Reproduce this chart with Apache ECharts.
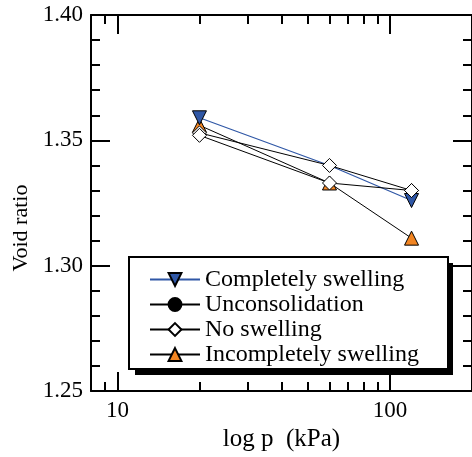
<!DOCTYPE html>
<html>
<head>
<meta charset="utf-8">
<script src="https://cdn.jsdelivr.net/npm/echarts@6/dist/echarts.min.js"></script>
<style>
html,body{margin:0;padding:0;background:#fff;}
#chart{width:472px;height:457px;}
</style>
</head>
<body>
<div id="chart"></div>
<script>
// ---- data ----
var pressures = [20, 60, 120];                 // kPa
var completelySwelling = [1.359, 1.340, 1.326];
var unconsolidation = [1.353, 1.340, 1.330];
var noSwelling = [1.352, 1.333, 1.330];
var incompletelySwelling = [1.356, 1.333, 1.311];
var seriesNames = ['Completely swelling', 'Unconsolidation', 'No swelling', 'Incompletely swelling'];
var xMin = 8, xMax = 200;
var xMajorTicks = [10, 100];
var xMinorTicks = [9, 20, 30, 40, 50, 60, 70, 80, 90];
var yMin = 1.25, yMax = 1.40, yInterval = 0.05;

// ---- styling ----
var FONT = "'Liberation Serif', 'Times New Roman', serif";
var BLUE = '#2f57a6';
var ORANGE = '#f28522';
var gridLeft = 91, gridTop = 15, gridWidth = 382, gridHeight = 379;
var legendBox = { left: 129, top: 257, width: 318, height: 112, shadow: 6 };

function pairs(ys) { return pressures.map(function (x, i) { return [x, ys[i]]; }); }
function log10(v) { return Math.log(v) / Math.LN10; }

var axisLineStyle = { color: '#000', width: 2 };
var tickStyle = { color: '#000', width: 2 };

var chart = echarts.init(document.getElementById('chart'), null, { renderer: 'canvas' });
chart.setOption({
  animation: false,
  backgroundColor: '#fff',
  textStyle: { fontFamily: FONT },
  grid: { left: gridLeft, top: gridTop, width: gridWidth, height: gridHeight, containLabel: false },
  graphic: [
    { type: 'rect', z: 3, silent: true,
      left: legendBox.left + legendBox.shadow, top: legendBox.top + legendBox.shadow,
      shape: { width: legendBox.width, height: legendBox.height },
      style: { fill: '#000' } }
  ],
  xAxis: [
    {
      type: 'log', logBase: 10, min: xMin, max: xMax, position: 'bottom',
      name: 'log p  (kPa)', nameLocation: 'middle', nameGap: 32,
      nameTextStyle: { fontFamily: FONT, fontSize: 25, color: '#000' },
      axisLine: { show: true, lineStyle: axisLineStyle },
      axisTick: { show: true, inside: true, length: 19, lineStyle: tickStyle },
      minorTick: { show: false },
      axisLabel: { show: true, margin: 8, showMinLabel: false, showMaxLabel: false,
        fontFamily: FONT, fontSize: 23, color: '#000',
        formatter: function (v) { return xMajorTicks.indexOf(Math.round(v)) >= 0 ? String(Math.round(v)) : ''; } },
      splitLine: { show: false }
    },
    {
      type: 'value', min: log10(xMin), max: log10(xMax), position: 'bottom',
      axisLine: { show: false },
      axisTick: { show: true, inside: true, length: 9, lineStyle: tickStyle,
        customValues: xMinorTicks.map(log10) },
      axisLabel: { show: false },
      splitLine: { show: false }
    },
    {
      type: 'log', logBase: 10, min: xMin, max: xMax, position: 'top',
      axisLine: { show: true, lineStyle: axisLineStyle },
      axisTick: { show: true, inside: true, length: 19, lineStyle: tickStyle },
      axisLabel: { show: false },
      splitLine: { show: false }
    },
    {
      type: 'value', min: log10(xMin), max: log10(xMax), position: 'top',
      axisLine: { show: false },
      axisTick: { show: true, inside: true, length: 9, lineStyle: tickStyle,
        customValues: xMinorTicks.map(log10) },
      axisLabel: { show: false },
      splitLine: { show: false }
    }
  ],
  yAxis: [
    {
      type: 'value', min: yMin, max: yMax, interval: yInterval, position: 'left',
      name: 'Void ratio', nameLocation: 'middle', nameGap: 59, nameRotate: 90,
      nameTextStyle: { fontFamily: FONT, fontSize: 22, color: '#000', padding: [0, 50, 0, 0] },
      axisLine: { show: true, lineStyle: axisLineStyle },
      axisTick: { show: true, inside: true, length: 19, lineStyle: tickStyle },
      minorTick: { show: true, splitNumber: 5, length: 9, lineStyle: tickStyle },
      axisLabel: { margin: 8, fontFamily: FONT, fontSize: 23, color: '#000',
        formatter: function (v) { return v.toFixed(2); } },
      splitLine: { show: false }
    },
    {
      type: 'value', min: yMin, max: yMax, interval: yInterval, position: 'right',
      axisLine: { show: true, lineStyle: axisLineStyle },
      axisTick: { show: true, inside: true, length: 19, lineStyle: tickStyle },
      minorTick: { show: true, splitNumber: 5, length: 9, lineStyle: tickStyle },
      axisLabel: { show: false },
      splitLine: { show: false }
    }
  ],
  legend: {
    data: seriesNames,
    orient: 'vertical',
    left: legendBox.left, top: legendBox.top,
    padding: [10, 15, 2, 20],
    itemWidth: 50, itemHeight: 16, itemGap: 0,
    backgroundColor: '#fff',
    borderColor: '#000', borderWidth: 2, borderRadius: 0,
    z: 4,
    textStyle: { fontFamily: FONT, fontSize: 24, color: '#000', lineHeight: 25, width: 228 },
    selectedMode: false
  },
  series: [
    {
      name: 'Incompletely swelling', type: 'line', data: pairs(incompletelySwelling), z: 2,
      symbol: 'triangle', symbolSize: 14,
      itemStyle: { color: ORANGE, borderColor: '#000', borderWidth: 1 },
      lineStyle: { color: '#000', width: 1 }
    },
    {
      name: 'Completely swelling', type: 'line', data: pairs(completelySwelling), z: 2,
      symbol: 'triangle', symbolRotate: 180,
      // marker is hidden where it falls under the Unconsolidation marker
      symbolSize: function (v, p) { return unconsolidation[p.dataIndex] === v[1] ? 0 : 14; },
      itemStyle: { color: BLUE, borderColor: '#000', borderWidth: 1 },
      lineStyle: { color: BLUE, width: 1.2 }
    },
    {
      name: 'Unconsolidation', type: 'line', data: pairs(unconsolidation), z: 2,
      symbol: 'circle', symbolSize: 8,
      itemStyle: { color: '#000', borderColor: '#000', borderWidth: 1 },
      lineStyle: { color: '#000', width: 1 }
    },
    {
      name: 'Unconsolidation (marker cover)', type: 'line', data: pairs(unconsolidation), z: 2,
      symbol: 'diamond', symbolSize: 14, silent: true,
      itemStyle: { color: '#fff', borderColor: '#000', borderWidth: 1 },
      lineStyle: { width: 0, opacity: 0 }
    },
    {
      name: 'No swelling', type: 'line', data: pairs(noSwelling), z: 2,
      symbol: 'diamond', symbolSize: 14,
      itemStyle: { color: '#fff', borderColor: '#000', borderWidth: 1 },
      lineStyle: { color: '#000', width: 1 }
    }
  ]
});
</script>
</body>
</html>
